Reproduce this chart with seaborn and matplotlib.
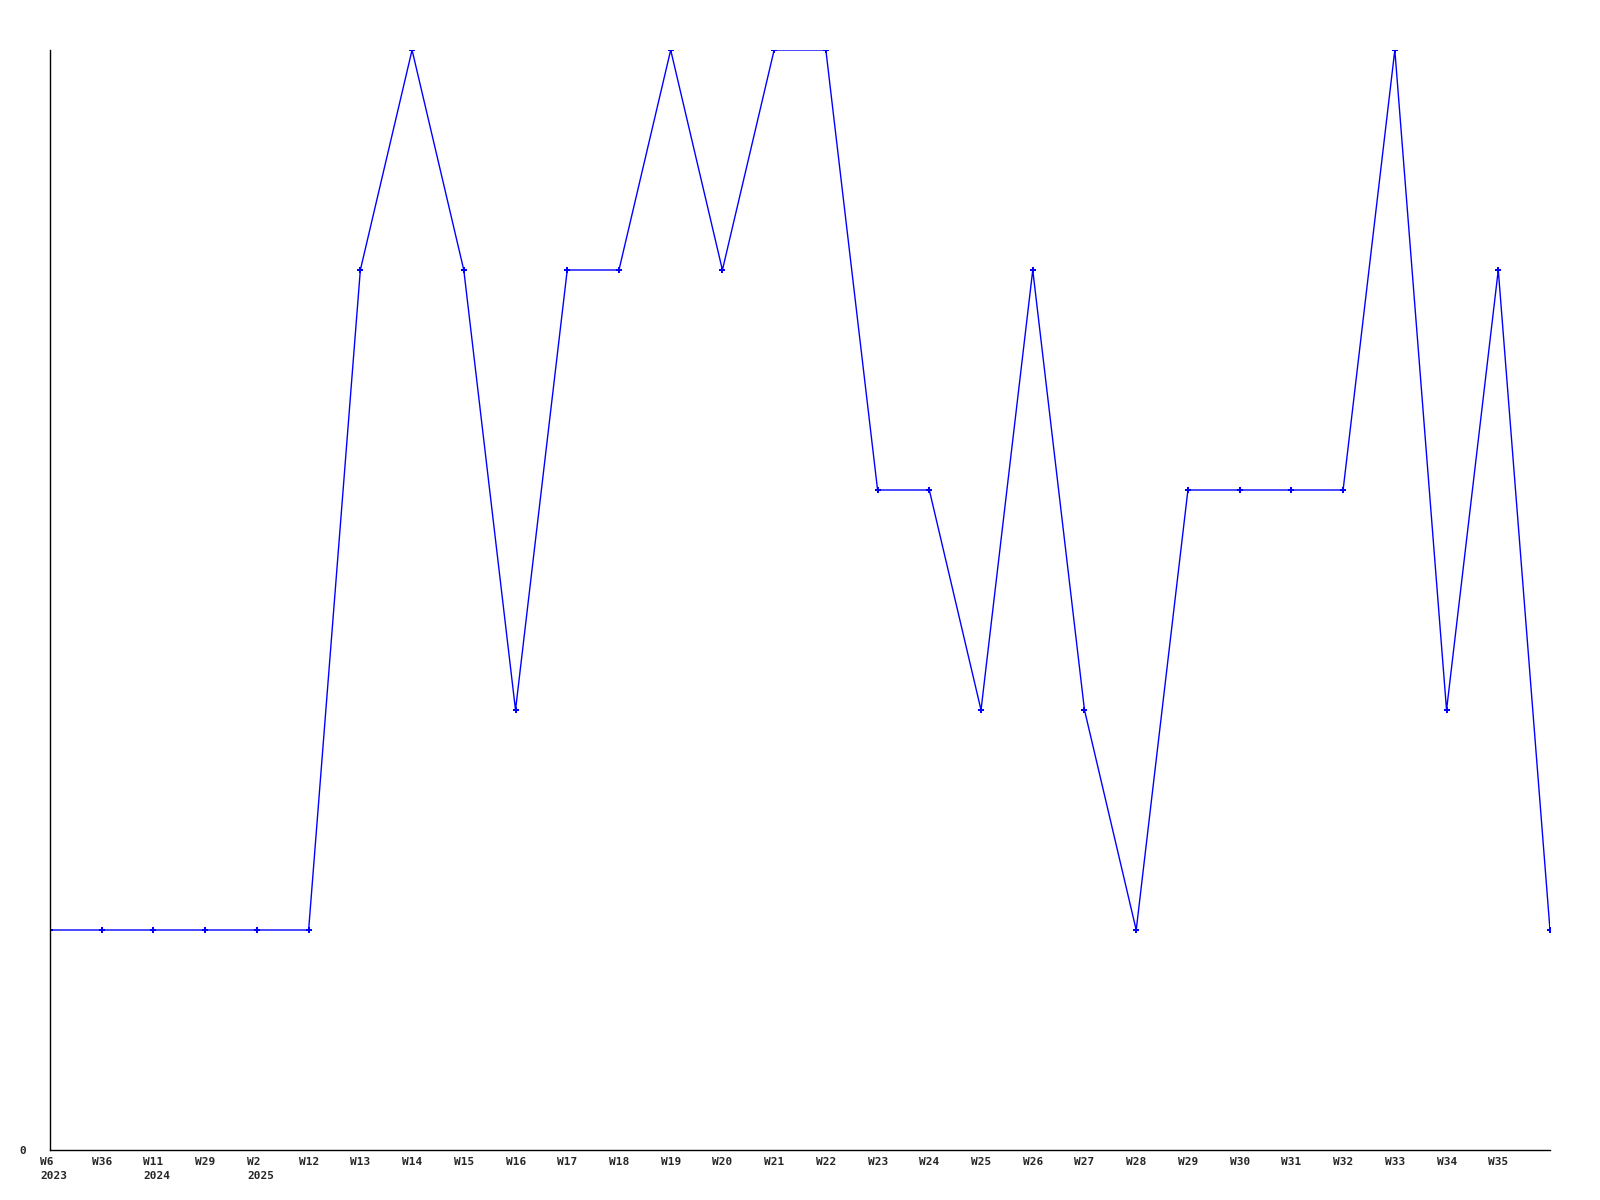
import matplotlib
matplotlib.use('Agg')
import matplotlib.pyplot as plt
import matplotlib.transforms as mtransforms
import pandas as pd
import seaborn as sns

# Week labels along the x axis (last point carries no label)
weeks = ['W6', 'W36', 'W11', 'W29', 'W2', 'W12', 'W13', 'W14', 'W15', 'W16',
         'W17', 'W18', 'W19', 'W20', 'W21', 'W22', 'W23', 'W24', 'W25', 'W26',
         'W27', 'W28', 'W29', 'W30', 'W31', 'W32', 'W33', 'W34', 'W35', '']
years = ['2023', '', '2024', '', '2025', '', '', '', '', '',
         '', '', '', '', '', '', '', '', '', '',
         '', '', '', '', '', '', '', '', '', '']
values = [1, 1, 1, 1, 1, 1, 4, 5, 4, 2,
          4, 4, 5, 4, 5, 5, 3, 3, 2, 4,
          2, 1, 3, 3, 3, 3, 5, 2, 4, 1]

df = pd.DataFrame({'pos': range(len(values)), 'value': values})

sns.set_style('white')
fig = plt.figure(figsize=(16, 12), dpi=100)
ax = fig.add_axes([50 / 1600, 50 / 1200, 1500 / 1600, 1100 / 1200])

sns.lineplot(data=df, x='pos', y='value', ax=ax, color='#0000ff',
             linewidth=1, marker='P', markersize=4, markeredgewidth=0)

ax.set_xlim(0, len(values) - 1)
ax.set_ylim(0, max(values))

font = dict(family='DejaVu Sans Mono', weight='bold', size=8)

labels = []
for w, y in zip(weeks[:-1], years[:-1]):
    labels.append(w + ('\n' + y if y else ''))
ax.set_xticks(range(len(labels)))
ax.set_yticks([0])
ax.tick_params(axis='both', length=0)
ax.tick_params(axis='x', pad=5)
ax.tick_params(axis='y', pad=17)
ax.set_xticklabels(labels, ha='left', va='top', linespacing=1.5, **font)
ax.set_yticklabels(['0'], **font)

# shift week labels so they start a little left of their tick
offset = mtransforms.ScaledTranslation(-10 / 100, 0, fig.dpi_scale_trans)
for lbl in ax.get_xticklabels():
    lbl.set_transform(lbl.get_transform() + offset)

for side in ['top', 'right']:
    ax.spines[side].set_visible(False)
for side in ['left', 'bottom']:
    ax.spines[side].set_color('black')
    ax.spines[side].set_linewidth(1)

ax.set_xlabel('')
ax.set_ylabel('')

plt.savefig('out.png', dpi=100, facecolor='white')
